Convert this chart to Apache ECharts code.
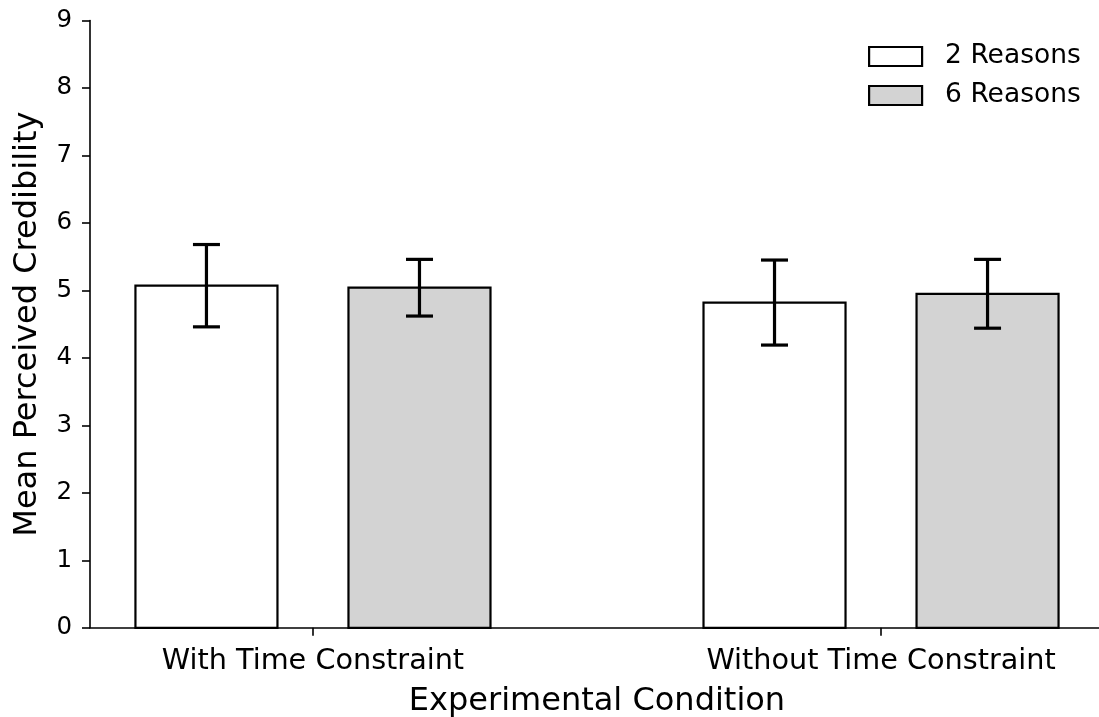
<!DOCTYPE html>
<html>
<head>
<meta charset="utf-8">
<script src="https://cdn.jsdelivr.net/npm/echarts@6/dist/echarts.min.js"></script>
<style>html,body{margin:0;padding:0;background:#fff}#c{width:1099px;height:717px}</style>
</head>
<body>
<div id="c"></div>
<script>
const categories = ['With Time Constraint', 'Without Time Constraint'];
const seriesNames = ['2 Reasons', '6 Reasons'];
const means2 = [5.07, 4.82];
const err2 = [0.61, 0.63];
const means6 = [5.04, 4.95];
const err6 = [0.42, 0.51];
const yTicks = [0, 1, 2, 3, 4, 5, 6, 7, 8, 9];

const BAR_W = 0.25, OFFSET = 0.1875, CAP = 13.5;
const fills = ['#ffffff', '#d3d3d3'];

function makeRender(offset, fill) {
  return function (params, api) {
    const x = api.value(0) + offset, y = api.value(1), e = api.value(2);
    const p0 = api.coord([x - BAR_W / 2, y]);
    const p1 = api.coord([x + BAR_W / 2, 0]);
    const t = api.coord([x, y + e]);
    const b = api.coord([x, y - e]);
    return {
      type: 'group',
      children: [
        { type: 'rect', shape: { x: p0[0], y: p0[1], width: p1[0] - p0[0], height: p1[1] - p0[1] },
          style: { fill: fill, stroke: '#000', lineWidth: 2.2 } },
        { type: 'line', shape: { x1: t[0], y1: t[1], x2: b[0], y2: b[1] }, style: { stroke: '#000', lineWidth: 3.2 } },
        { type: 'line', shape: { x1: t[0] - CAP, y1: t[1], x2: t[0] + CAP, y2: t[1] }, style: { stroke: '#000', lineWidth: 3.2 } },
        { type: 'line', shape: { x1: b[0] - CAP, y1: b[1], x2: b[0] + CAP, y2: b[1] }, style: { stroke: '#000', lineWidth: 3.2 } }
      ]
    };
  };
}

const data2 = categories.map((c, i) => [i, means2[i], err2[i]]);
const data6 = categories.map((c, i) => [i, means6[i], err6[i]]);

const chart = echarts.init(document.getElementById('c'), null, { renderer: 'canvas' });
const font = 'DejaVu Sans';
chart.setOption({
  animation: false,
  backgroundColor: '#fff',
  textStyle: { fontFamily: font },
  grid: { left: 90, right: -5, top: 20.5, bottom: 89.2, containLabel: false, outerBoundsMode: 'none' },
  legend: {
    orient: 'vertical', left: 863, top: 38, itemWidth: 53, itemHeight: 19, itemGap: 12,
    icon: 'rect',
    textStyle: { fontFamily: font, fontSize: 26.5, color: '#000', padding: [0, 0, 0, 18] },
    data: [
      { name: seriesNames[0], itemStyle: { color: fills[0], borderColor: '#000', borderWidth: 2.2 } },
      { name: seriesNames[1], itemStyle: { color: fills[1], borderColor: '#000', borderWidth: 2.2 } }
    ]
  },
  xAxis: {
    type: 'value', min: -0.3925, max: 1.3925,
    splitLine: { show: false },
    axisLine: { show: true, onZero: false, lineStyle: { color: '#000', width: 1.6 } },
    axisTick: { show: true, customValues: [0, 1], length: 8, lineStyle: { color: '#000', width: 1.6 } },
    axisLabel: { customValues: [0, 1], formatter: v => categories[Math.round(v)] || '', fontFamily: font, fontSize: 28.7, color: '#000', margin: 19 },
    name: 'Experimental Condition', nameLocation: 'middle', nameGap: 58,
    nameTextStyle: { fontFamily: font, fontSize: 32, color: '#000' }
  },
  yAxis: {
    type: 'value', min: 0, max: 9, interval: 1,
    splitLine: { show: false },
    axisLine: { show: true, onZero: false, lineStyle: { color: '#000', width: 1.6 } },
    axisTick: { show: true, length: 8, lineStyle: { color: '#000', width: 1.6 } },
    axisLabel: { formatter: v => String(yTicks[v] !== undefined ? yTicks[v] : v), fontFamily: font, fontSize: 24.5, color: '#000', margin: 18, padding: [3, 0, 0, 0] },
    name: 'Mean Perceived Credibility', nameLocation: 'middle', nameGap: 46,
    nameTextStyle: { fontFamily: font, fontSize: 32, color: '#000' }
  },
  series: [
    { name: seriesNames[0], type: 'custom', renderItem: makeRender(-OFFSET, fills[0]), data: data2,
      itemStyle: { color: fills[0], borderColor: '#000', borderWidth: 2.2 }, encode: { x: 0, y: 1 } },
    { name: seriesNames[1], type: 'custom', renderItem: makeRender(OFFSET, fills[1]), data: data6,
      itemStyle: { color: fills[1], borderColor: '#000', borderWidth: 2.2 }, encode: { x: 0, y: 1 } }
  ]
});
</script>
</body>
</html>
